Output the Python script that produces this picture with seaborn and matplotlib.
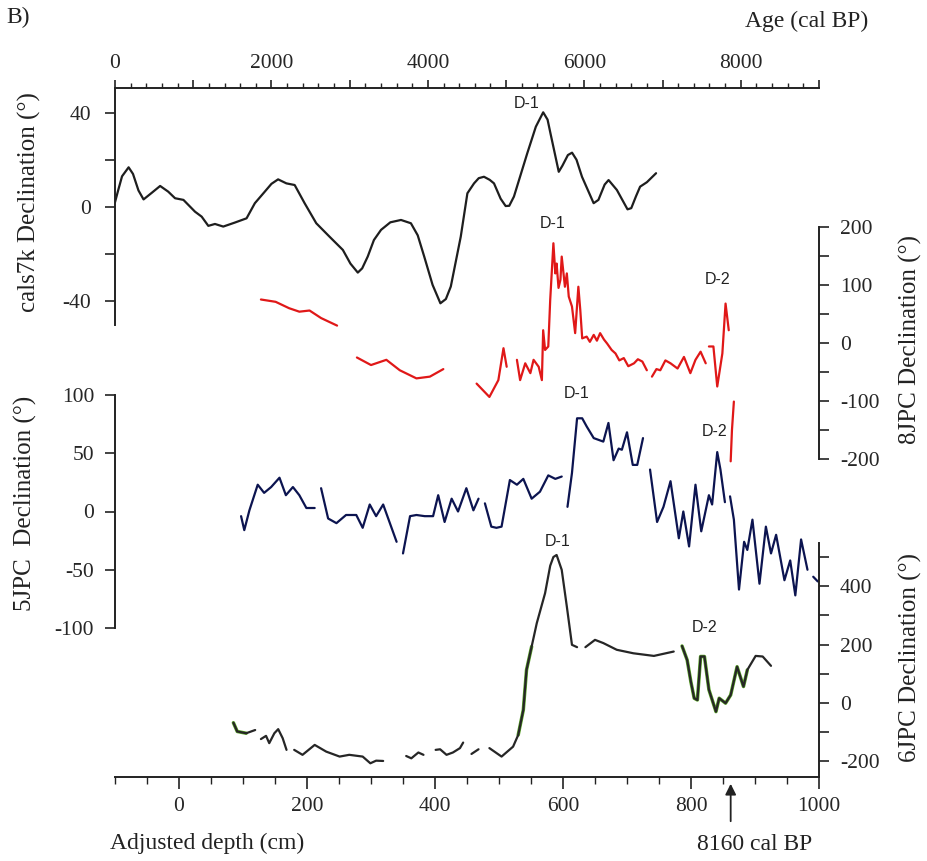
import numpy as np
import pandas as pd
import matplotlib
matplotlib.use("Agg")
import matplotlib.pyplot as plt
import seaborn as sns
from matplotlib.ticker import MultipleLocator, FixedLocator, FuncFormatter

sns.set_theme(style="white")
plt.rcParams['font.family'] = ['Liberation Serif', 'DejaVu Serif']
plt.rcParams['axes.unicode_minus'] = False

# ---------------- data ----------------
# cals7k declination vs age (cal BP)
cals7k_age = [0, 40, 90, 174, 230, 300, 365, 470, 577, 680, 768, 875, 1023, 1108, 1193, 1278, 1384,
              1533, 1682, 1788, 1915, 2000, 2085, 2191, 2297, 2424, 2573, 2743, 2913, 3010, 3104,
              3160, 3231, 3310, 3401, 3520, 3656, 3783, 3870, 3953, 4060, 4160, 4230, 4293, 4420,
              4505, 4590, 4650, 4717, 4790, 4845, 4930, 4994, 5040, 5100, 5270, 5380, 5474, 5530,
              5567, 5673, 5720, 5790, 5843, 5900, 5970, 6119, 6180, 6260, 6310, 6416, 6552, 6600,
              6660, 6713, 6800, 6917]
cals7k_dec = [2, 7, 13, 16.8, 14, 7, 3.2, 6, 8.9, 6.5, 3.7, 3.0, -2.0, -4.1, -8.0, -7.2, -8.3,
              -6.6, -4.8, 1.6, 6.5, 9.8, 11.7, 10.0, 9.3, 1.6, -6.9, -12.6, -18.2, -24, -27.8,
              -26, -21.0, -14, -9.7, -6.5, -5.5, -6.9, -12, -21.0, -33, -40.8, -39, -33.7, -12.6,
              5.8, 10.0, 12.2, 12.8, 11.5, 10.0, 3.5, 0.4, 0.5, 4.4, 22.7, 34, 40.1, 37,
              31.2, 14.9, 17.5, 22, 23.0, 20, 12.8, 1.6, 3, 9.5, 11.4, 7.2, -1.0, -0.5,
              4.5, 8.6, 10.5, 14.3]

# 8JPC declination vs adjusted depth (segments separated by gaps)
jpc8_depth = [128, 151, 172, 188, 204, 222, 247,
              278, 300, 324, 345, 371, 392, 413,
              465, 485, 499, 507, 512,
              528, 533, 541, 549, 554, 562, 567, 569, 572, 577, 580, 585, 588, 590, 593, 596, 598, 603,
              606, 609, 614, 619, 624, 627, 630, 637, 642, 648, 653, 658, 664, 669, 676, 682, 688, 695,
              702, 711, 717, 724, 731,
              739, 746, 752, 760, 768, 779, 789, 799, 807, 815, 823,
              828, 835, 841, 849, 854, 859,
              862, 864, 867]
jpc8_dec = [75, 71, 60, 54, 56, 43, 30,
            -25, -38, -29, -47, -61, -58, -45,
            -70, -93, -64, -9, -41,
            -29, -64, -35, -52, -29, -41, -64, 22, -12, -6, 74, 172, 120, 137, 95, 109, 149, 97,
            120, 80, 63, 17, 97, 57, 8, 11, 2, 14, 4, 17, 6, -1, -12, -18, -30, -26,
            -40, -35, -28, -32, -47,
            -58, -45, -47, -30, -35, -44, -24, -52, -29, -15, -35,
            -6, -6, -75, -18, 68, 22,
            -204, -150, -101]
jpc8_seg = [1]*7 + [2]*7 + [3]*5 + [4]*41 + [5]*11 + [6]*6 + [7]*3

# 5JPC declination vs adjusted depth
jpc5_depth = [97, 102, 110, 123, 133, 144, 157, 167, 178, 188, 199, 212,
              222, 233, 246, 261, 277, 287, 298, 308, 319, 340,
              350, 361, 371, 384, 397, 405, 415, 426, 436, 449, 460, 468,
              478, 488, 496, 504, 517, 528, 538, 551, 564, 577, 588, 598,
              607, 614, 622, 630, 637, 648, 663, 671, 679, 687, 692, 700, 709, 716, 725,
              736, 747, 757, 768, 781, 788, 797, 807, 816, 828, 833, 841, 846, 853,
              861, 867, 875, 883, 888, 896, 907, 917, 925, 933, 946, 955, 963, 972, 982,
              991, 998]
jpc5_dec = [-4, -16, 1, 23, 16, 21, 29, 14, 21, 14, 3, 3,
            20, -6, -10, -3, -3, -14, 6, -4, 6, -26,
            -36, -4, -3, -4, -4, 14, -9, 11, 0, 20, 1, 11,
            7, -13, -14, -13, 27, 23, 28, 11, 17, 31, 28, 30,
            4, 33, 80, 80, 73, 63, 60, 76, 44, 54, 53, 68, 40, 40, 63,
            36, -9, 4, 26, -23, 0, -30, 23, -17, 14, 6, 51, 36, 8,
            13, -7, -67, -26, -33, -7, -62, -13, -36, -20, -59, -42, -72, -24, -50,
            -56, -60]
jpc5_seg = [1]*12 + [2]*10 + [3]*12 + [4]*12 + [5]*15 + [6]*14 + [7]*15 + [8]*2

# 6JPC declination vs adjusted depth
jpc6_depth = [85, 91, 105, 119,
              128, 136, 141, 149, 155, 162, 168,
              180, 193, 212, 230, 251, 266, 287, 299, 308, 319,
              355, 363, 374, 382,
              401, 408, 418, 428, 439, 444,
              457, 468,
              485, 504, 522, 530, 538, 543, 551, 559, 572, 580, 585, 590, 598, 606, 614, 622,
              635, 650, 663, 684, 710, 742, 773,
              786, 794, 800, 805, 810, 815, 821, 828, 839, 844, 854, 862, 872, 882, 888, 901, 912, 925]
jpc6_dec = [-68, -98, -104, -93,
            -124, -113, -138, -104, -90, -121, -161,
            -161, -178, -144, -167, -184, -178, -184, -207, -198, -199,
            -182, -190, -170, -178,
            -161, -159, -178, -170, -155, -136,
            -175, -159,
            -155, -184, -150, -110, -24, 113, 193, 273, 376, 470, 500, 507, 456, 330, 199, 191,
            191, 216, 205, 182, 170, 161, 176,
            195, 147, 70, 16, 10, 159, 159, 45, -30, 16, -1, 27, 124, 56, 113, 161, 159, 127]
jpc6_seg = [1]*4 + [2]*7 + [3]*10 + [4]*4 + [5]*6 + [6]*2 + [7]*16 + [8]*7 + [9]*18

# green overlay pieces of 6JPC (second run)
jpc6g_depth = [85, 91, 105, 530, 538, 543, 551, 786, 794, 800, 805, 810, 815, 821, 828, 839, 844, 854, 862, 872, 882, 888]
jpc6g_dec = [-68, -98, -104, -110, -24, 113, 193, 195, 147, 70, 16, 10, 159, 159, 45, -30, 16, -1, 27, 124, 56, 113]
jpc6g_seg = [1]*3 + [2]*4 + [3]*15

df_c = pd.DataFrame({"age": cals7k_age, "dec": cals7k_dec})
df_8 = pd.DataFrame({"depth": jpc8_depth, "dec": jpc8_dec, "seg": jpc8_seg})
df_5 = pd.DataFrame({"depth": jpc5_depth, "dec": jpc5_dec, "seg": jpc5_seg})
df_6 = pd.DataFrame({"depth": jpc6_depth, "dec": jpc6_dec, "seg": jpc6_seg})
df_6g = pd.DataFrame({"depth": jpc6g_depth, "dec": jpc6g_dec, "seg": jpc6g_seg})

# ---------------- figure ----------------
W, H = 927, 861
fig = plt.figure(figsize=(W / 100, H / 100), dpi=100)


def rect(x0, y0, x1, y1):
    return [x0 / W, 1 - y1 / H, (x1 - x0) / W, (y1 - y0) / H]


def fx(x):
    return x / W


def fy(y):
    return 1 - y / H


ax_c = fig.add_axes(rect(115, 88, 819, 325))
ax_8 = fig.add_axes(rect(115, 227, 819, 459))
ax_5 = fig.add_axes(rect(115, 395, 819, 628))
ax_6 = fig.add_axes(rect(115, 543, 819, 777))

for ax in (ax_c, ax_8, ax_5, ax_6):
    ax.set_facecolor("none")
    for s in ax.spines.values():
        s.set_visible(False)
        s.set_linewidth(1.4)
        s.set_color("#222222")

LW = 1.6
TICKC = "#222222"
TFS = 15.5

# ---- cals7k ----
sns.lineplot(data=df_c, x="age", y="dec", estimator=None, sort=False,
             color="#1e1e1e", lw=LW, ax=ax_c, legend=False)
ax_c.set_xlim(0, 9000)
ax_c.set_ylim(-50, 50.4)
ax_c.spines["top"].set_visible(True)
ax_c.spines["left"].set_visible(True)
ax_c.xaxis.set_ticks_position("top")
ax_c.xaxis.set_major_locator(MultipleLocator(1000))
ax_c.xaxis.set_minor_locator(MultipleLocator(200))
ax_c.xaxis.set_major_formatter(FuncFormatter(lambda v, p: f"{int(v)}" if (int(v) % 2000 == 0 and v <= 8000) else ""))
ax_c.tick_params(axis="x", which="major", direction="out", length=6, width=1.2, color=TICKC,
                 labelsize=TFS, pad=5, top=True, bottom=False, labeltop=True, labelbottom=False)
ax_c.tick_params(axis="x", which="minor", direction="out", length=3.5, width=1.0, color=TICKC,
                 top=True, bottom=False)
ax_c.yaxis.set_major_locator(FixedLocator([-40, 0, 40]))
ax_c.yaxis.set_minor_locator(FixedLocator([-20, 20]))
ax_c.tick_params(axis="y", which="both", direction="out", length=7, width=1.2, color=TICKC,
                 labelsize=TFS, pad=10, left=True, right=False)
ax_c.set_xlabel("")
ax_c.set_ylabel("")

# ---- 8JPC ----
sns.lineplot(data=df_8, x="depth", y="dec", units="seg", estimator=None, sort=False,
             color="#e01818", lw=LW, ax=ax_8, legend=False)
for l in ax_8.lines:
    l.set_clip_on(False)
ax_8.set_xlim(-100, 1000)
ax_8.set_ylim(-200, 200)
ax_8.spines["right"].set_visible(True)
ax_8.yaxis.set_ticks_position("right")
ax_8.yaxis.set_major_locator(MultipleLocator(100))
ax_8.yaxis.set_minor_locator(MultipleLocator(50))
ax_8.tick_params(axis="y", which="both", direction="out", length=7, width=1.2, color=TICKC,
                 labelsize=TFS, pad=8, right=True, left=False, labelright=True, labelleft=False)
ax_8.set_xticks([])
ax_8.set_xlabel("")
ax_8.set_ylabel("")

# ---- 5JPC ----
sns.lineplot(data=df_5, x="depth", y="dec", units="seg", estimator=None, sort=False,
             color="#0c1450", lw=LW, ax=ax_5, legend=False)
ax_5.set_xlim(-100, 1000)
ax_5.set_ylim(-100, 100)
ax_5.spines["left"].set_visible(True)
ax_5.yaxis.set_major_locator(MultipleLocator(50))
ax_5.tick_params(axis="y", which="both", direction="out", length=7, width=1.2, color=TICKC,
                 labelsize=TFS, pad=8, left=True, right=False)
ax_5.set_xticks([])
ax_5.set_xlabel("")
ax_5.set_ylabel("")

# ---- 6JPC ----
sns.lineplot(data=df_6g, x="depth", y="dec", units="seg", estimator=None, sort=False,
             color="#5aa528", lw=2.5, ax=ax_6, legend=False)
sns.lineplot(data=df_6, x="depth", y="dec", units="seg", estimator=None, sort=False,
             color="#262626", lw=LW, ax=ax_6, legend=False)
ax_6.set_xlim(-100, 1000)
ax_6.set_ylim(-254, 548)
ax_6.spines["right"].set_visible(True)
ax_6.spines["bottom"].set_visible(True)
ax_6.yaxis.set_ticks_position("right")
ax_6.yaxis.set_major_locator(FixedLocator([-200, 0, 200, 400]))
ax_6.yaxis.set_minor_locator(FixedLocator([-100, 100, 300, 500]))
ax_6.tick_params(axis="y", which="both", direction="out", length=7, width=1.2, color=TICKC,
                 labelsize=TFS, pad=8, right=True, left=False, labelright=True, labelleft=False)
ax_6.xaxis.set_major_locator(MultipleLocator(200))
ax_6.xaxis.set_minor_locator(MultipleLocator(50))
ax_6.xaxis.set_major_formatter(FuncFormatter(lambda v, p: f"{int(v)}" if v >= 0 else ""))
ax_6.tick_params(axis="x", which="major", direction="out", length=8.5, width=1.2, color=TICKC,
                 labelsize=TFS, pad=6, bottom=True, top=False)
ax_6.tick_params(axis="x", which="minor", direction="out", length=5, width=1.0, color=TICKC,
                 bottom=True, top=False)
ax_6.set_xlabel("")
ax_6.set_ylabel("")

# ---------------- text ----------------
lab_kw = dict(fontsize=18, rotation=90, ha="center", va="center", color="#222222")
fig.text(fx(29), fy(202), "cals7k Declination (°)", **lab_kw)
fig.text(fx(25), fy(503), "5JPC  Declination (°)", **lab_kw)
fig.text(fx(910), fy(340), "8JPC Declination (°)", **lab_kw)
fig.text(fx(910), fy(657), "6JPC Declination (°)", **lab_kw)

fig.text(fx(868), fy(21), "Age (cal BP)", fontsize=17, ha="right", va="center", color="#222222")
fig.text(fx(6), fy(17), "B)", fontsize=17, ha="left", va="center", color="#222222")
fig.text(fx(110), fy(843), "Adjusted depth (cm)", fontsize=17, ha="left", va="center", color="#222222")

dk = dict(fontsize=11.5, ha="center", va="center", color="#222222", family=["Liberation Sans", "DejaVu Sans"])
fig.text(fx(527), fy(103), "D-1", **dk)
fig.text(fx(553), fy(223), "D-1", **dk)
fig.text(fx(718), fy(280), "D-2", **dk)
fig.text(fx(577), fy(393), "D-1", **dk)
fig.text(fx(715), fy(432), "D-2", **dk)
fig.text(fx(558), fy(542), "D-1", **dk)
fig.text(fx(705), fy(628), "D-2", **dk)

ax_6.annotate("", xy=(862, fy(781)), xytext=(862, fy(824)),
              xycoords=("data", "figure fraction"), textcoords=("data", "figure fraction"),
              arrowprops=dict(arrowstyle="-|>", color="#222222", lw=1.3, mutation_scale=16))
fig.text(fx(755), fy(844), "8160 cal BP", fontsize=17, ha="center", va="center", color="#222222")

fig.savefig("out.png", dpi=100)
